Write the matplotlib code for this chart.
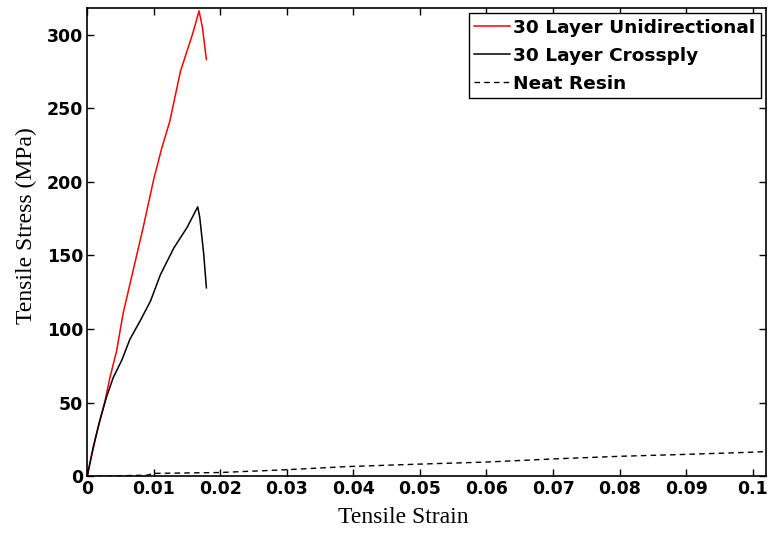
import matplotlib
matplotlib.use('Agg')
import matplotlib.pyplot as plt
from matplotlib.font_manager import FontProperties

# Data
uni_strain = [0, 0.0004, 0.0016, 0.00265, 0.0034, 0.0044, 0.0054, 0.0069, 0.0084,
              0.0100, 0.0112, 0.0124, 0.0140, 0.0158, 0.0168, 0.0173, 0.0179]
uni_stress = [0, 9, 33, 51, 67, 85, 111, 140, 169,
              202, 223, 241, 275, 300, 316, 305, 283]

cross_strain = [0, 0.0004, 0.0009, 0.0019, 0.0029, 0.0039, 0.0052, 0.0064, 0.0080,
                0.0095, 0.0110, 0.0130, 0.0150, 0.0166, 0.0169, 0.0175, 0.0179]
cross_stress = [0, 9, 20, 38, 54, 67, 79, 93, 106,
                119, 137, 155, 169, 183, 176, 151, 128]

resin_strain = [0, 0.005, 0.009, 0.01, 0.02, 0.03, 0.039, 0.05, 0.06, 0.07,
                0.08, 0.09, 0.1, 0.102]
resin_stress = [0, 0.4, 0.8, 2.0, 2.6, 4.5, 6.6, 8.3, 9.7, 11.8,
                13.6, 14.9, 16.4, 16.8]

legend_labels = ['30 Layer Unidirectional', '30 Layer Crossply', 'Neat Resin']
xticks = [0, 0.01, 0.02, 0.03, 0.04, 0.05, 0.06, 0.07, 0.08, 0.09, 0.1]
xtick_labels = ['0', '0.01', '0.02', '0.03', '0.04', '0.05', '0.06', '0.07', '0.08', '0.09', '0.1']
yticks = [0, 50, 100, 150, 200, 250, 300]

fig = plt.figure(figsize=(7.69, 5.34), dpi=100)
ax = fig.add_axes([0.1135, 0.108, 0.8825, 0.877])

ax.plot(uni_strain, uni_stress, color='red', lw=1.1, label=legend_labels[0])
ax.plot(cross_strain, cross_stress, color='black', lw=1.1, label=legend_labels[1])
ax.plot(resin_strain, resin_stress, color='black', lw=1.0, ls=(0, (4, 3)), label=legend_labels[2])

ax.set_xlim(0, 0.102)
ax.set_ylim(0, 318)
ax.set_xticks(xticks)
ax.set_xticklabels(xtick_labels)
ax.set_yticks(yticks)

tick_fp = FontProperties(family='DejaVu Sans', weight='bold', size=12.5)
for lab in ax.get_xticklabels() + ax.get_yticklabels():
    lab.set_fontproperties(tick_fp)

ax.tick_params(direction='in', length=5, width=1, top=True, right=True, pad=3)
for sp in ax.spines.values():
    sp.set_linewidth(1.2)

ax.set_xlabel('Tensile Strain', family='Liberation Serif', fontsize=17)
ax.set_ylabel('Tensile Stress (MPa)', family='Liberation Serif', fontsize=17)
ax.xaxis.set_label_coords(0.465, -0.065)
ax.yaxis.set_label_coords(-0.074, 0.536)

leg = ax.legend(loc='upper right', prop={'family': 'DejaVu Sans', 'weight': 'bold', 'size': 13.3},
                fancybox=False, framealpha=1, edgecolor='black', borderaxespad=0.27,
                handlelength=1.95, handletextpad=0.15, borderpad=0.3, labelspacing=0.55)
leg.get_frame().set_linewidth(1.0)

fig.savefig('out.png', dpi=100)
